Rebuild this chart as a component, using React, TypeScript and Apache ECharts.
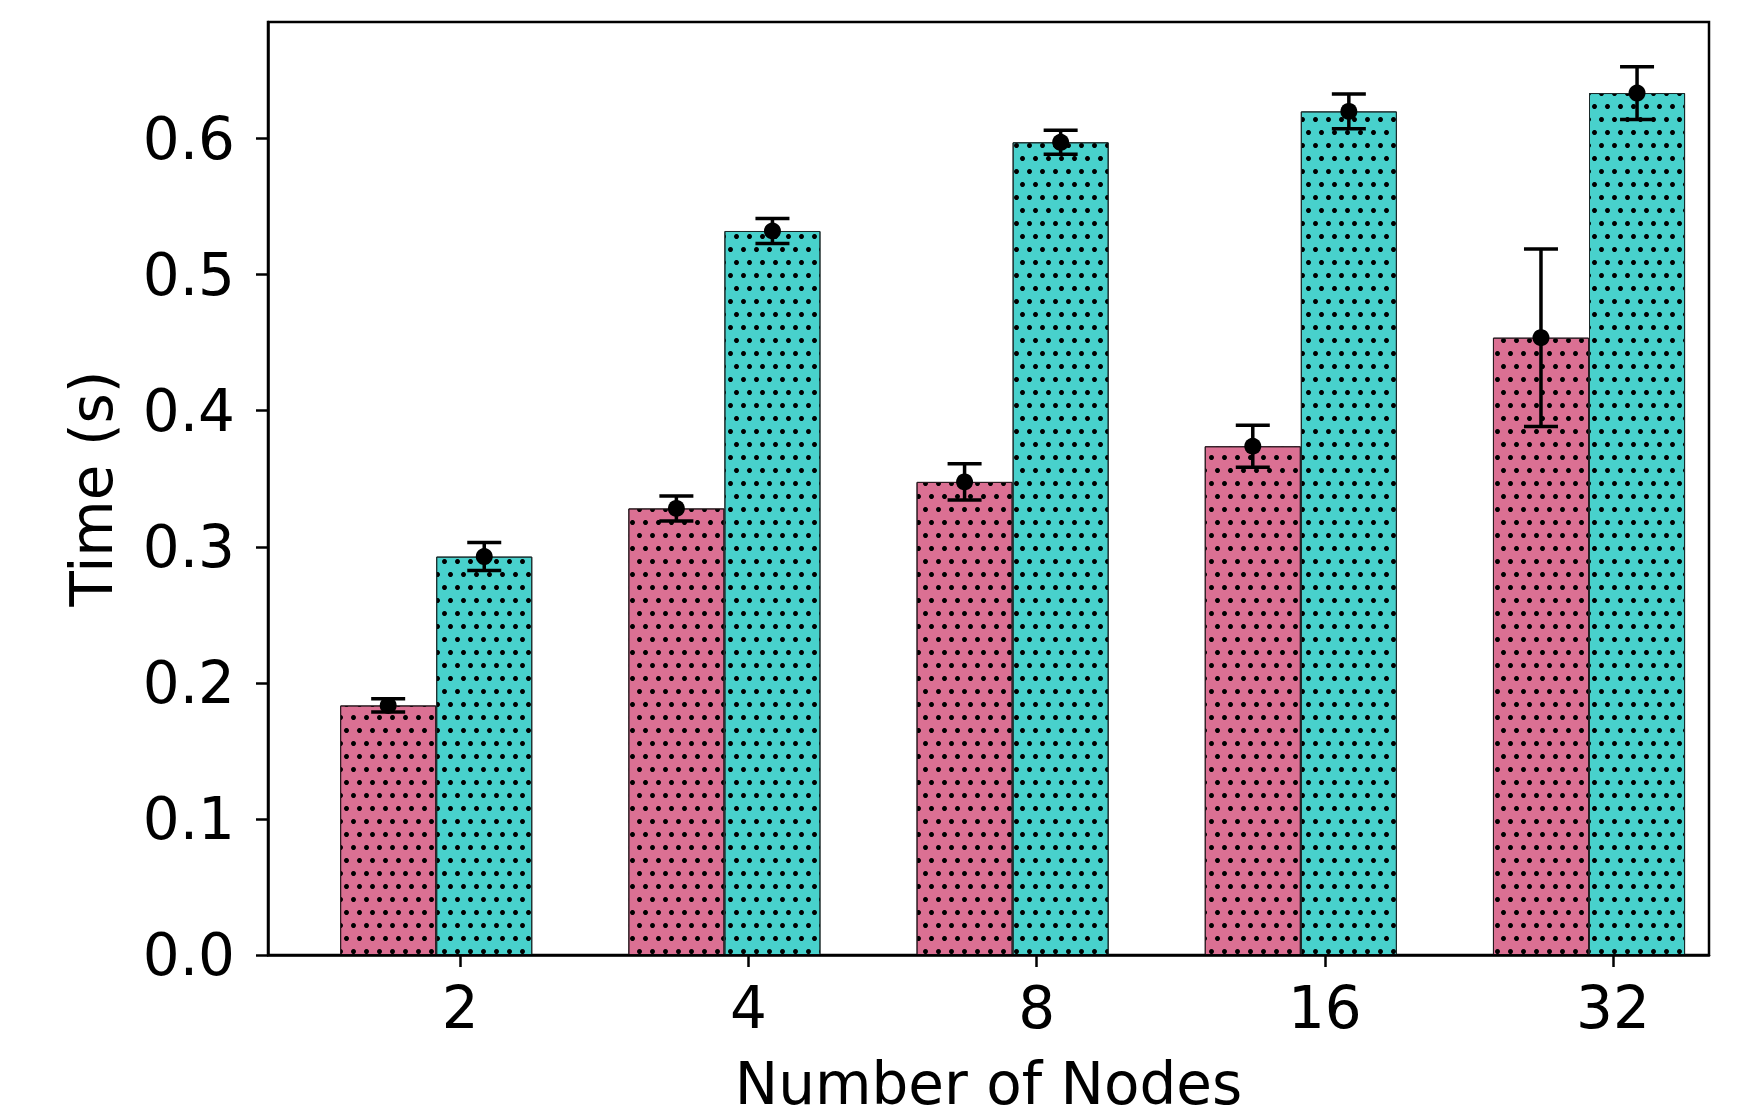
import React, { useEffect, useRef } from "react";
import * as echarts from "echarts";

// ---- data ----
const nodeLabels = ["2", "4", "8", "16", "32"];
const pinkMeans = [0.1834, 0.3282, 0.3477, 0.3739, 0.4537];
const pinkErrors = [0.0049, 0.0092, 0.0133, 0.0154, 0.0652];
const tealMeans = [0.2928, 0.5321, 0.5973, 0.62, 0.6335];
const tealErrors = [0.0103, 0.0092, 0.0088, 0.0127, 0.0194];
const yTickValues = [0, 0.1, 0.2, 0.3, 0.4, 0.5, 0.6];

// ---- layout / style ----
const W = 1763;
const H = 1118;
const GRID = { left: 268, right: 54, top: 22, bottom: 160 };
const X_MIN = -0.667;
const X_MAX = 4.333;
const Y_MAX = 0.6857;
const BAR_W = 1 / 3;
const PINK_OFF = -0.25;
const TEAL_OFF = 1 / 12;
const FONT = "DejaVu Sans";
const FS = 58;

const decal = {
  symbol: "circle",
  symbolSize: 1,
  color: "#000",
  dashArrayX: [
    [5, 8],
    [0, 6, 5, 2],
  ],
  dashArrayY: [5, 8],
  rotation: 0,
};

export default function App() {
  const ref = useRef<HTMLDivElement>(null);
  useEffect(() => {
    document.body.style.margin = "0";
    if (!ref.current) return;
    const chart = echarts.init(ref.current, undefined, { renderer: "svg" });
    const plotW = W - GRID.left - GRID.right;
    const barPx = (BAR_W / (X_MAX - X_MIN)) * plotW;
    const xs = nodeLabels.map((_, i) => i);

    const pinkData = xs.map((x, i) => [x + PINK_OFF, pinkMeans[i]]);
    const tealData = xs.map((x, i) => [x + TEAL_OFF, tealMeans[i]]);
    const errData = [
      ...xs.map((x, i) => [x + PINK_OFF, pinkMeans[i], pinkErrors[i]]),
      ...xs.map((x, i) => [x + TEAL_OFF, tealMeans[i], tealErrors[i]]),
    ];

    const tickStyle = { color: "#000", width: 2.5 };

    chart.setOption({
      animation: false,
      backgroundColor: "#fff",
      grid: {
        ...GRID,
        show: true,
        borderColor: "#000",
        borderWidth: 2.5,
        backgroundColor: "transparent",
      },
      xAxis: {
        type: "value",
        min: X_MIN,
        max: X_MAX,
        z: 5,
        name: "Number of Nodes",
        nameLocation: "middle",
        nameGap: 100,
        nameTextStyle: { fontFamily: FONT, fontSize: FS, color: "#000" },
        axisLine: { show: true, onZero: false, lineStyle: tickStyle },
        axisTick: {
          show: true,
          length: 12,
          lineStyle: tickStyle,
          customValues: xs,
        },
        axisLabel: {
          customValues: xs,
          margin: 24,
          fontFamily: FONT,
          fontSize: FS,
          color: "#000",
          formatter: (v: number) => nodeLabels[Math.round(v)] ?? "",
        },
        splitLine: { show: false },
      },
      yAxis: {
        type: "value",
        min: 0,
        max: Y_MAX,
        z: 5,
        name: "Time (s)",
        nameLocation: "middle",
        nameGap: 147,
        nameRotate: 90,
        nameTextStyle: { fontFamily: FONT, fontSize: FS, color: "#000" },
        axisLine: { show: true, onZero: false, lineStyle: tickStyle },
        axisTick: {
          show: true,
          length: 12,
          lineStyle: tickStyle,
          customValues: yTickValues,
        },
        axisLabel: {
          customValues: yTickValues,
          margin: 33,
          fontFamily: FONT,
          fontSize: FS,
          color: "#000",
          formatter: (v: number) => v.toFixed(1),
        },
        splitLine: { show: false },
      },
      series: [
        {
          type: "bar",
          name: "pink",
          data: pinkData,
          barWidth: barPx,
          barGap: "-100%",
          itemStyle: {
            color: "#DB7093",
            borderColor: "#2a1a20",
            borderWidth: 1,
            decal,
          },
          z: 2,
        },
        {
          type: "bar",
          name: "teal",
          data: tealData,
          barWidth: barPx,
          barGap: "-100%",
          itemStyle: {
            color: "#48D1CC",
            borderColor: "#1a2a2a",
            borderWidth: 1,
            decal,
          },
          z: 2,
        },
        {
          type: "custom",
          name: "err",
          data: errData,
          encode: { x: 0, y: 1 },
          z: 4,
          renderItem: (params: any, api: any) => {
            const x = api.value(0);
            const v = api.value(1);
            const e = api.value(2);
            const top = api.coord([x, v + e]);
            const bot = api.coord([x, v - e]);
            const c = api.coord([x, v]);
            const cap = 17;
            const st = { stroke: "#000", lineWidth: 3.5, fill: "none" };
            return {
              type: "group",
              children: [
                {
                  type: "line",
                  shape: { x1: top[0], y1: top[1], x2: bot[0], y2: bot[1] },
                  style: st,
                },
                {
                  type: "line",
                  shape: { x1: top[0] - cap, y1: top[1], x2: top[0] + cap, y2: top[1] },
                  style: st,
                },
                {
                  type: "line",
                  shape: { x1: bot[0] - cap, y1: bot[1], x2: bot[0] + cap, y2: bot[1] },
                  style: st,
                },
                {
                  type: "circle",
                  shape: { cx: c[0], cy: c[1], r: 8.5 },
                  style: { fill: "#000" },
                },
              ],
            };
          },
        },
      ],
    });
    return () => chart.dispose();
  }, []);
  return <div ref={ref} style={{ width: W, height: H }} />;
}
